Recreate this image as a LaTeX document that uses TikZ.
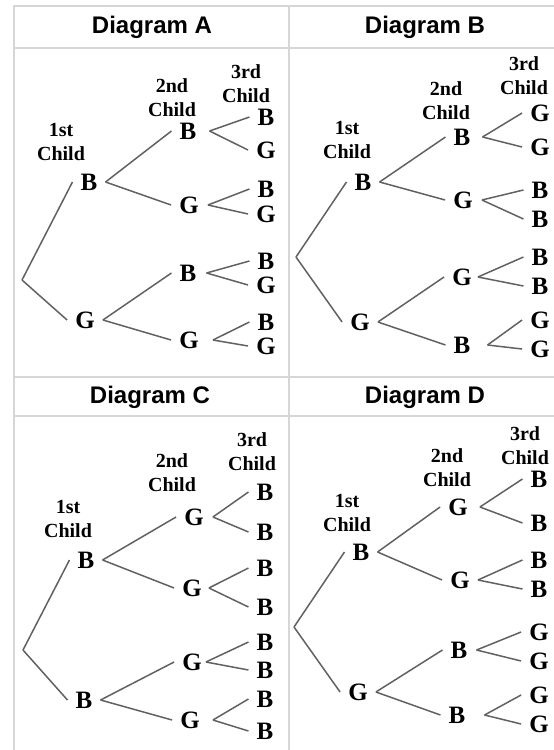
\documentclass[tikz,border=0pt]{standalone}
\usepackage{fontspec}
\setmainfont{Liberation Serif}
\setsansfont{Liberation Sans}
\definecolor{branch}{gray}{0.38}
\definecolor{rulegray}{gray}{0.84}
\begin{document}
\begin{tikzpicture}[x=1pt,y=-1pt,
  ltr/.style={inner xsep=8pt,inner ysep=1pt,font=\fontsize{25}{25}\selectfont\bfseries},
  hdr/.style={align=center,inner sep=0pt,font=\fontsize{20}{24}\selectfont\bfseries},
  ttl/.style={inner sep=0pt,font=\fontsize{24}{24}\selectfont\sffamily\bfseries},
  br/.style={draw=branch,line width=1.5pt},
  rule/.style={draw=rulegray,line width=1.3pt}]
\useasboundingbox (0,0) rectangle (554,750);
% table lines
\draw[rule] (14,750) -- (14,6) -- (554,6);
\draw[rule] (289,6) -- (289,750);
\draw[rule] (14,48) -- (554,48);
\draw[rule] (14,377) -- (554,377);
\draw[rule] (14,416) -- (554,416);
\node[ttl] (tA) at (152,27) {Diagram A};
\node[ttl] (tB) at (425,27) {Diagram B};
\node[ttl] (tC) at (150,397) {Diagram C};
\node[ttl] (tD) at (425,397) {Diagram D};
% Diagram A
\node[hdr] (hA1) at (61,142) {1st\\Child};
\node[hdr] (hA2) at (172,98) {2nd\\Child};
\node[hdr] (hA3) at (246,84) {3rd\\Child};
\coordinate (aR) at (22,280);
\node[ltr] (a1) at (89,182) {B};
\node[ltr] (a2) at (85,320) {G};
\node[ltr] (a11) at (188,131) {B};
\node[ltr] (a12) at (189,205) {G};
\node[ltr] (a21) at (188,273) {B};
\node[ltr] (a22) at (189,340) {G};
\node[ltr] (a111) at (266,117) {B};
\node[ltr] (a112) at (266,150) {G};
\node[ltr] (a121) at (266,189) {B};
\node[ltr] (a122) at (266,214) {G};
\node[ltr] (a211) at (266,261) {B};
\node[ltr] (a212) at (266,285) {G};
\node[ltr] (a221) at (266,322) {B};
\node[ltr] (a222) at (266,346) {G};
\draw[br] (aR) edge (a1.west) edge (a2.west);
\draw[br] (a1.east) edge (a11.west) edge (a12.west);
\draw[br] (a2.east) edge (a21.west) edge (a22.west);
\draw[br] ([xshift=5pt]a11.east) edge (a111.west) edge (a112.west);
\draw[br] ([xshift=1pt]a12.east) edge (a121.west) edge (a122.west);
\draw[br] ([xshift=2pt]a21.east) edge (a211.west) edge (a212.west);
\draw[br] ([xshift=6pt]a22.east) edge (a221.west) edge (a222.west);
% Diagram B
\node[hdr] (hB1) at (347,140) {1st\\Child};
\node[hdr] (hB2) at (446,101) {2nd\\Child};
\node[hdr] (hB3) at (524,76) {3rd\\Child};
\coordinate (bR) at (296,257);
\node[ltr] (b1) at (363,182) {B};
\node[ltr] (b2) at (360,322) {G};
\node[ltr] (b11) at (462,137) {B};
\node[ltr] (b12) at (463,200) {G};
\node[ltr] (b21) at (462,277) {G};
\node[ltr] (b22) at (462,345) {B};
\node[ltr] (b111) at (540,113) {G};
\node[ltr] (b112) at (540,147) {G};
\node[ltr] (b121) at (540,190) {B};
\node[ltr] (b122) at (540,219) {B};
\node[ltr] (b211) at (540,257) {B};
\node[ltr] (b212) at (540,286) {B};
\node[ltr] (b221) at (540,320) {G};
\node[ltr] (b222) at (540,349) {G};
\draw[br] (bR) edge (b1.west) edge (b2.west);
\draw[br] (b1.east) edge (b11.west) edge (b12.west);
\draw[br] (b2.east) edge (b21.west) edge (b22.west);
\draw[br] ([xshift=4pt]b11.east) edge (b111.west) edge (b112.west);
\draw[br] ([xshift=1pt]b12.east) edge (b121.west) edge (b122.west);
\draw[br] ([xshift=-2pt]b21.east) edge (b211.west) edge (b212.west);
\draw[br] ([xshift=9pt]b22.east) edge (b221.west) edge (b222.west);
% Diagram C
\node[hdr] (hC1) at (68,519) {1st\\Child};
\node[hdr] (hC2) at (172,473) {2nd\\Child};
\node[hdr] (hC3) at (252,452) {3rd\\Child};
\coordinate (cR) at (23,650);
\node[ltr] (c1) at (86,560) {B};
\node[ltr] (c2) at (84,700) {B};
\node[ltr] (c11) at (194,517) {G};
\node[ltr] (c12) at (192,588) {G};
\node[ltr] (c21) at (192,662) {G};
\node[ltr] (c22) at (190,720) {G};
\node[ltr] (c111) at (265,492) {B};
\node[ltr] (c112) at (265,532) {B};
\node[ltr] (c121) at (265,568) {B};
\node[ltr] (c122) at (265,607) {B};
\node[ltr] (c211) at (265,642) {B};
\node[ltr] (c212) at (265,670) {B};
\node[ltr] (c221) at (265,699) {B};
\node[ltr] (c222) at (265,731) {B};
\draw[br] (cR) edge (c1.west) edge (c2.west);
\draw[br] (c1.east) edge (c11.west) edge (c12.west);
\draw[br] (c2.east) edge (c21.west) edge (c22.west);
\draw[br] ([xshift=1pt]c11.east) edge (c111.west) edge (c112.west);
\draw[br] ([xshift=-1pt]c12.east) edge (c121.west) edge (c122.west);
\draw[br] ([xshift=-4pt]c21.east) edge (c211.west) edge (c212.west);
\draw[br] ([xshift=5pt]c22.east) edge (c221.west) edge (c222.west);
% Diagram D
\node[hdr] (hD1) at (347,513) {1st\\Child};
\node[hdr] (hD2) at (447,468) {2nd\\Child};
\node[hdr] (hD3) at (525,446) {3rd\\Child};
\coordinate (dR) at (294,627);
\node[ltr] (d1) at (361,552) {B};
\node[ltr] (d2) at (358,692) {G};
\node[ltr] (d11) at (458,507) {G};
\node[ltr] (d12) at (460,580) {G};
\node[ltr] (d21) at (459,650) {B};
\node[ltr] (d22) at (457,715) {B};
\node[ltr] (d111) at (539,479) {B};
\node[ltr] (d112) at (539,523) {B};
\node[ltr] (d121) at (539,560) {B};
\node[ltr] (d122) at (539,589) {B};
\node[ltr] (d211) at (539,632) {G};
\node[ltr] (d212) at (539,661) {G};
\node[ltr] (d221) at (539,695) {G};
\node[ltr] (d222) at (539,724) {G};
\draw[br] (dR) edge (d1.west) edge (d2.west);
\draw[br] (d1.east) edge (d11.west) edge (d12.west);
\draw[br] (d2.east) edge (d21.west) edge (d22.west);
\draw[br] ([xshift=4pt]d11.east) edge (d111.west) edge (d112.west);
\draw[br] (d12.east) edge (d121.west) edge (d122.west);
\draw[br] ([xshift=1pt]d21.east) edge (d211.west) edge (d212.west);
\draw[br] ([xshift=11pt]d22.east) edge (d221.west) edge (d222.west);
\end{tikzpicture}
\end{document}
